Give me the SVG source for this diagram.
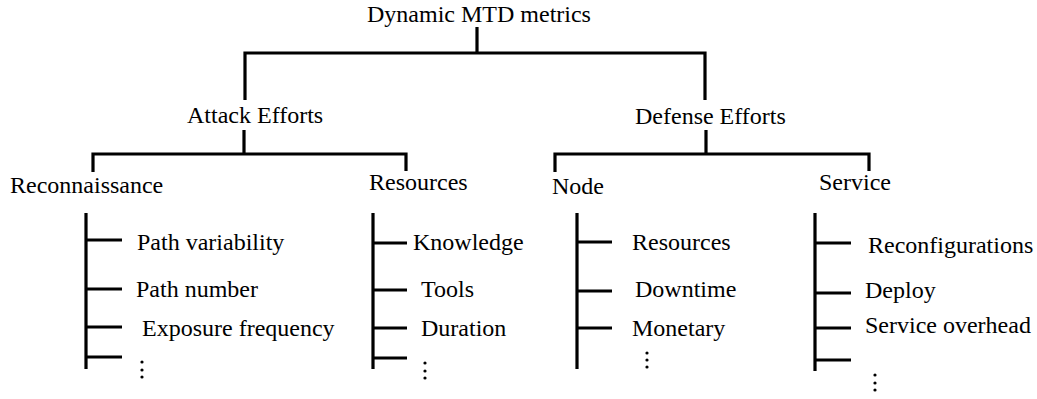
<svg xmlns="http://www.w3.org/2000/svg" width="1037" height="399" viewBox="0 0 1037 399">
<defs>
<circle id="dot" r="1.6" fill="#000"/>
</defs>
<rect width="1037" height="399" fill="#fff"/>
<g id="connectors" stroke="#000" stroke-width="3.2" fill="none" stroke-linecap="butt" stroke-linejoin="miter">
<path d="M477,27V53M245,100V53H705V100"/>
<path d="M244,130V154M93,172V154H406V171"/>
<path d="M706,130V154M555,172V154H869V171"/>
<path d="M86,213V369M86,240H122M86,289H122M86,327H122M86,357H122"/>
<path d="M373,213V369M373,243H407M373,290H407M373,328H407M373,358H407"/>
<path d="M577,213V369M577,242H612M577,291H612M577,328H612"/>
<path d="M815,213V371M815,243H851M815,293H851M815,328H851M815,360H851"/>
</g>
<g id="root"><text x="367" y="22" style="font-family:'Liberation Serif',serif;font-size:24px">Dynamic MTD metrics</text></g>
<g id="attack"><text x="187" y="123" style="font-family:'Liberation Serif',serif;font-size:24px">Attack Efforts</text></g>
<g id="defense"><text x="635" y="124" style="font-family:'Liberation Serif',serif;font-size:24px">Defense Efforts</text></g>
<g id="reconnaissance"><text x="10" y="193" style="font-family:'Liberation Serif',serif;font-size:24px">Reconnaissance</text></g>
<g id="resources"><text x="369" y="190" style="font-family:'Liberation Serif',serif;font-size:24px">Resources</text></g>
<g id="node"><text x="552" y="194" style="font-family:'Liberation Serif',serif;font-size:24px">Node</text></g>
<g id="service"><text x="819" y="190" style="font-family:'Liberation Serif',serif;font-size:24px">Service</text></g>
<g id="recon-items">
<text x="137" y="250" style="font-family:'Liberation Serif',serif;font-size:24px">Path variability</text>
<text x="136" y="297" style="font-family:'Liberation Serif',serif;font-size:24px">Path number</text>
<text x="142" y="336" style="font-family:'Liberation Serif',serif;font-size:24px">Exposure frequency</text>
<use href="#dot" x="142" y="362"/><use href="#dot" x="142" y="370"/><use href="#dot" x="142" y="377"/>
</g>
<g id="res-items">
<text x="413" y="250" style="font-family:'Liberation Serif',serif;font-size:24px">Knowledge</text>
<text x="421" y="297" style="font-family:'Liberation Serif',serif;font-size:24px">Tools</text>
<text x="421" y="336" style="font-family:'Liberation Serif',serif;font-size:24px">Duration</text>
<use href="#dot" x="425" y="363"/><use href="#dot" x="425" y="371"/><use href="#dot" x="425" y="378"/>
</g>
<g id="node-items">
<text x="632" y="250" style="font-family:'Liberation Serif',serif;font-size:24px">Resources</text>
<text x="635" y="297" style="font-family:'Liberation Serif',serif;font-size:24px">Downtime</text>
<text x="632" y="336" style="font-family:'Liberation Serif',serif;font-size:24px">Monetary</text>
<use href="#dot" x="647" y="353"/><use href="#dot" x="647" y="360"/><use href="#dot" x="647" y="367"/>
</g>
<g id="service-items">
<text x="868" y="253" style="font-family:'Liberation Serif',serif;font-size:24px">Reconfigurations</text>
<text x="865" y="298" style="font-family:'Liberation Serif',serif;font-size:24px">Deploy</text>
<text x="865" y="333" style="font-family:'Liberation Serif',serif;font-size:24px">Service overhead</text>
<use href="#dot" x="875" y="375"/><use href="#dot" x="875" y="383"/><use href="#dot" x="875" y="390"/>
</g>
</svg>
